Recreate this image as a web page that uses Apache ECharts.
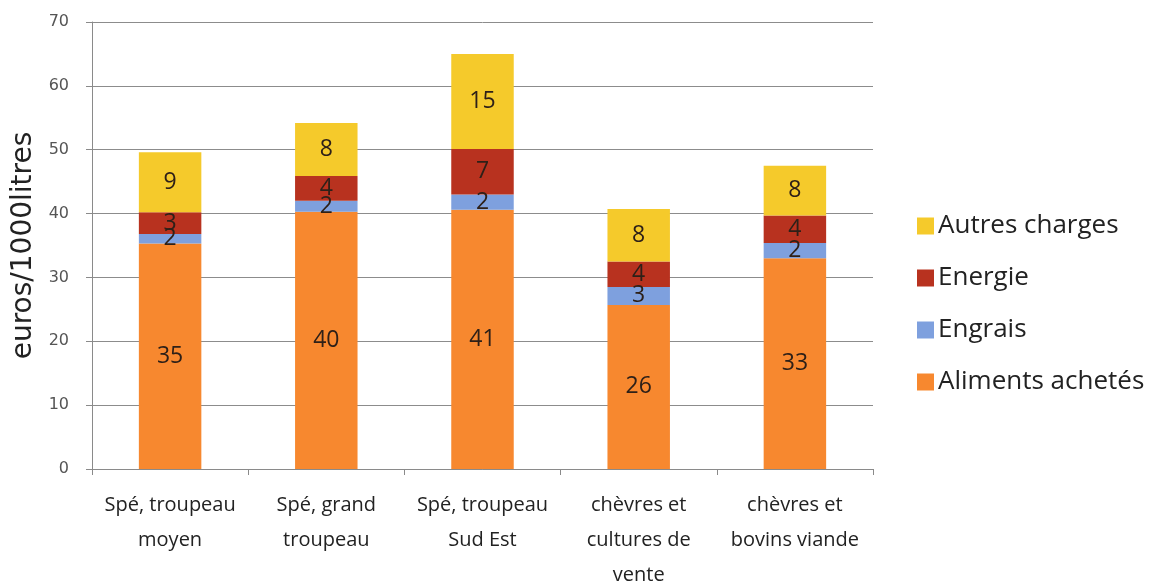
<!DOCTYPE html>
<html>
<head>
<meta charset="utf-8">
<script src="https://cdn.jsdelivr.net/npm/echarts@6/dist/echarts.min.js"></script>
<style>
  html, body { margin: 0; padding: 0; background: #fff; }
  #chart { width: 1165px; height: 581px; }
</style>
</head>
<body>
<div id="chart"></div>
<script>
// categories (x axis)
const categories = [
  'Spé, troupeau\nmoyen',
  'Spé, grand\ntroupeau',
  'Spé, troupeau\nSud Est',
  'chèvres et\ncultures de\nvente',
  'chèvres et\nbovins viande'
];
// values, euros/1000 litres
const aliments = [35.3, 40.3, 40.6, 25.7, 33.0];
const engrais = [1.5, 1.7, 2.4, 2.8, 2.4];
const energie = [3.4, 3.9, 7.1, 4.0, 4.3];
const autres = [9.4, 8.3, 14.9, 8.2, 7.8];
const yTicks = [0, 10, 20, 30, 40, 50, 60, 70];

const font = '"Open Sans", Lato, sans-serif';
const axisFont = '"DejaVu Sans", Verdana, sans-serif';

function serie(name, data, color) {
  return {
    name: name,
    type: 'bar',
    stack: 'total',
    barWidth: '40%',
    data: data,
    itemStyle: { color: color },
    label: {
      show: true,
      position: 'inside',
      fontFamily: font,
      fontSize: 23,
      color: '#2e2018',
      formatter: p => Math.round(p.value)
    }
  };
}

const chart = echarts.init(document.getElementById('chart'));
chart.setOption({
  animation: false,
  grid: { left: 92, right: 292, top: 22, bottom: 112, outerBoundsMode: 'none', containLabel: false },
  legend: {
    orient: 'vertical',
    left: 912,
    top: 208,
    itemGap: 26,
    itemWidth: 17,
    itemHeight: 17,
    icon: 'rect',
    data: ['Autres charges', 'Energie', 'Engrais', 'Aliments achetés'],
    textStyle: { fontFamily: font, fontSize: 26, lineHeight: 26, color: '#222', padding: [0, 0, 0, -1] }
  },
  xAxis: {
    type: 'category',
    data: categories,
    axisLine: { lineStyle: { color: '#8a8a8a', width: 1 } },
    axisTick: { show: true, length: 6, lineStyle: { color: '#8a8a8a' } },
    axisLabel: {
      fontFamily: font,
      fontSize: 20,
      color: '#222',
      lineHeight: 35,
      margin: 19,
      interval: 0
    }
  },
  yAxis: {
    type: 'value',
    min: yTicks[0],
    max: yTicks[yTicks.length - 1],
    interval: 10,
    name: 'euros/1000litres',
    nameLocation: 'middle',
    nameGap: 52,
    nameTextStyle: { fontFamily: axisFont, fontSize: 28, color: '#222' },
    axisLine: { show: true, lineStyle: { color: '#8a8a8a', width: 1 } },
    axisTick: { show: true, length: 6, lineStyle: { color: '#8a8a8a' } },
    axisLabel: { fontFamily: axisFont, fontSize: 16, color: '#555', margin: 23 },
    splitLine: { lineStyle: { color: '#8c8c8c', width: 1 } }
  },
  series: [
    serie('Aliments achetés', aliments, '#F7882F'),
    serie('Engrais', engrais, '#7EA0DE'),
    serie('Energie', energie, '#B8321F'),
    serie('Autres charges', autres, '#F5CA2B')
  ]
});
</script>
</body>
</html>
